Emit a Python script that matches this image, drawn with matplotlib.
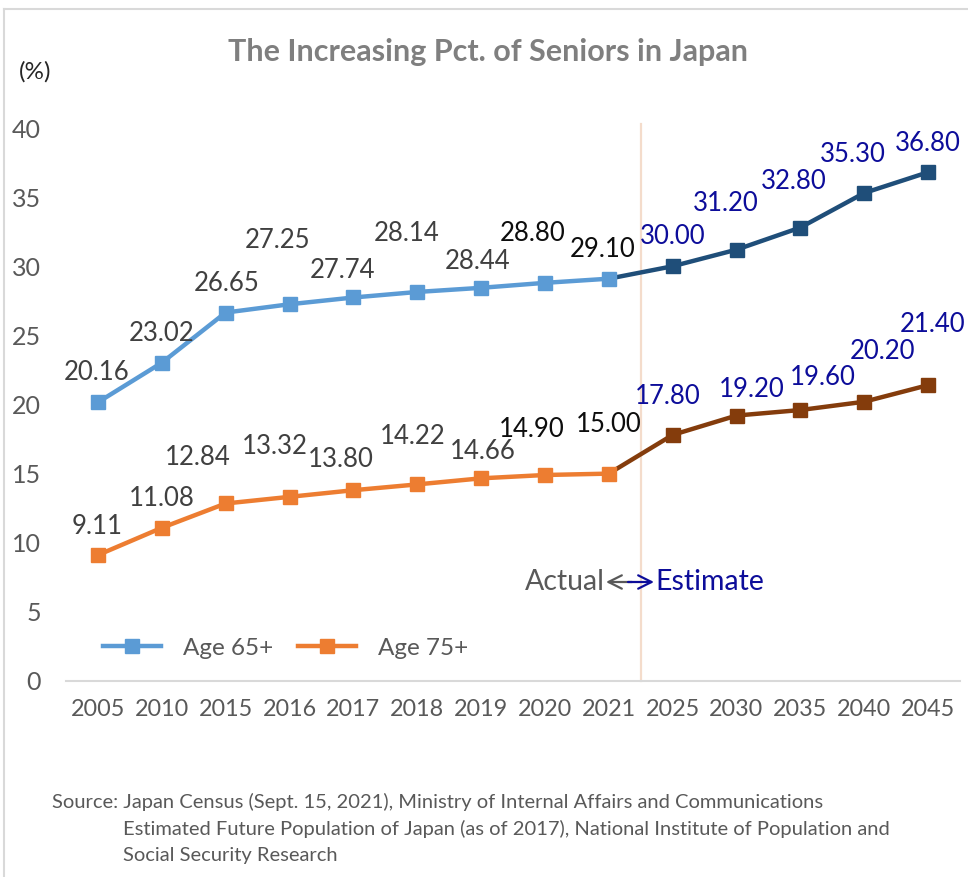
import numpy as np
import matplotlib
matplotlib.use("Agg")
import matplotlib.pyplot as plt
from matplotlib.lines import Line2D
from matplotlib.patches import FancyArrowPatch

plt.rcParams['font.family'] = ['Lato', 'DejaVu Sans']

# datos
years = ['2005', '2010', '2015', '2016', '2017', '2018', '2019', '2020', '2021',
         '2025', '2030', '2035', '2040', '2045']
age65 = [20.16, 23.02, 26.65, 27.25, 27.74, 28.14, 28.44, 28.80, 29.10,
         30.00, 31.20, 32.80, 35.30, 36.80]
age75 = [9.11, 11.08, 12.84, 13.32, 13.80, 14.22, 14.66, 14.90, 15.00,
         17.80, 19.20, 19.60, 20.20, 21.40]
n_actual = 9  # 2005..2021 son datos reales, el resto estimado

# desplazamiento de cada etiqueta (pixeles)
off65 = [(-1, 30), (0, 29), (1, 29), (-12, 64), (-11, 27), (-11, 58), (-4, 26),
         (-12, 49), (-6, 29), (0, 30), (-11, 46), (-7, 46), (-11, 38), (0, 29)]
off75 = [(-1, 29), (0, 29), (-28, 46), (-15, 50), (-13, 31), (-5, 48), (2, 27),
         (-13, 46), (0, 49), (-5, 38), (15, 26), (22, 33), (18, 50), (4, 61)]

light_blue = '#5B9BD5'
dark_blue = '#1F4E79'
orange = '#ED7D31'
dark_orange = '#843C0C'
gray = '#595959'
est_text = '#0D0D9A'

W, H = 968, 877
fig = plt.figure(figsize=(W / 100, H / 100), dpi=100)
ax = fig.add_axes([66 / W, 1 - 681 / H, (960 - 66) / W, (681 - 128) / H])

x = np.arange(len(years))
xa = x[:n_actual]
xe = x[n_actual - 1:]

# estimados primero (linea oscura), luego reales encima
ax.plot(xe, age65[n_actual - 1:], color=dark_blue, lw=3.2, marker='s', ms=10,
        markevery=list(range(1, len(xe))), zorder=3)
ax.plot(xe, age75[n_actual - 1:], color=dark_orange, lw=3.2, marker='s', ms=10,
        markevery=list(range(1, len(xe))), zorder=3)
ax.plot(xa, age65[:n_actual], color=light_blue, lw=3.2, marker='s', ms=10, zorder=4)
ax.plot(xa, age75[:n_actual], color=orange, lw=3.2, marker='s', ms=10, zorder=4)

# etiquetas de datos
for serie, offs in ((age65, off65), (age75, off75)):
    for i, v in enumerate(serie):
        if i >= n_actual:
            c = est_text
        elif i >= n_actual - 2:
            c = '#0D0D0D'
        else:
            c = '#404040'
        ax.annotate(f'{v:.2f}', (x[i], v), xytext=offs[i], textcoords='offset pixels',
                    ha='center', va='center', fontsize=18.5, color=c, zorder=5,
                    annotation_clip=False)

# linea divisoria real / estimado
ax.plot([n_actual - 0.5, n_actual - 0.5], [0, 40.3], color='#F4DCCB', lw=1.6,
        clip_on=False, zorder=1)

ax.set_xlim(-0.5, len(years) - 0.5)
ax.set_ylim(0, 40)
ax.set_yticks(range(0, 41, 5))
ax.set_xticks(x)
ax.set_xticklabels(years)
ax.tick_params(axis='y', length=0, pad=18, labelsize=18, labelcolor=gray)
ax.tick_params(axis='x', length=0, pad=13, labelsize=16.8, labelcolor=gray)
for s in ('top', 'right', 'left'):
    ax.spines[s].set_visible(False)
ax.spines['bottom'].set_color('#D9D9D9')
ax.spines['bottom'].set_linewidth(1.5)

# leyenda
handles = [Line2D([], [], color=light_blue, lw=3.2, marker='s', ms=10),
           Line2D([], [], color=orange, lw=3.2, marker='s', ms=10)]
ax.legend(handles, ['Age 65+', 'Age 75+'], loc='center left', ncol=2, frameon=False,
          bbox_to_anchor=(37 / (960 - 66), (681 - 648) / (681 - 128)),
          fontsize=17.5, labelcolor=gray, handlelength=2.4, columnspacing=1.0,
          handletextpad=0.9, borderaxespad=0, borderpad=0)


def fx(px):
    return px / W


def fy(py):
    return 1 - py / H


# textos
fig.text(fx(488), fy(52), 'The Increasing Pct. of Seniors in Japan', ha='center', va='center',
         fontsize=22, fontweight='bold', color='#7F7F7F')
fig.text(fx(35), fy(72), '(%)', ha='center', va='center', fontsize=17.5, color='#262626')

fig.text(fx(605), fy(582), 'Actual', ha='right', va='center', fontsize=20.5, color=gray)
fig.text(fx(655), fy(582), 'Estimate', ha='left', va='center', fontsize=20.5, color=est_text)
fig.add_artist(FancyArrowPatch((fx(632), fy(582)), (fx(606), fy(582)),
               transform=fig.transFigure, arrowstyle='->', mutation_scale=24,
               color=gray, lw=1.6, shrinkA=0, shrinkB=0))
fig.add_artist(FancyArrowPatch((fx(628), fy(582)), (fx(654), fy(582)),
               transform=fig.transFigure, arrowstyle='->', mutation_scale=24,
               color=est_text, lw=1.6, shrinkA=0, shrinkB=0))

src = 14.5
fig.text(fx(52), fy(802), 'Source: Japan Census (Sept. 15, 2021), Ministry of Internal Affairs and Communications',
         ha='left', va='center', fontsize=src, color=gray)
fig.text(fx(123), fy(829), 'Estimated Future Population of Japan (as of 2017), National Institute of Population and',
         ha='left', va='center', fontsize=src, color=gray)
fig.text(fx(123), fy(855), 'Social Security Research',
         ha='left', va='center', fontsize=src, color=gray)

# marco
fig.add_artist(Line2D([fx(4), 1], [fy(9), fy(9)], color='#D9D9D9', lw=1.5))
fig.add_artist(Line2D([fx(4), fx(4)], [fy(9), 0], color='#D9D9D9', lw=1.5))

fig.savefig('out.png', dpi=100)
